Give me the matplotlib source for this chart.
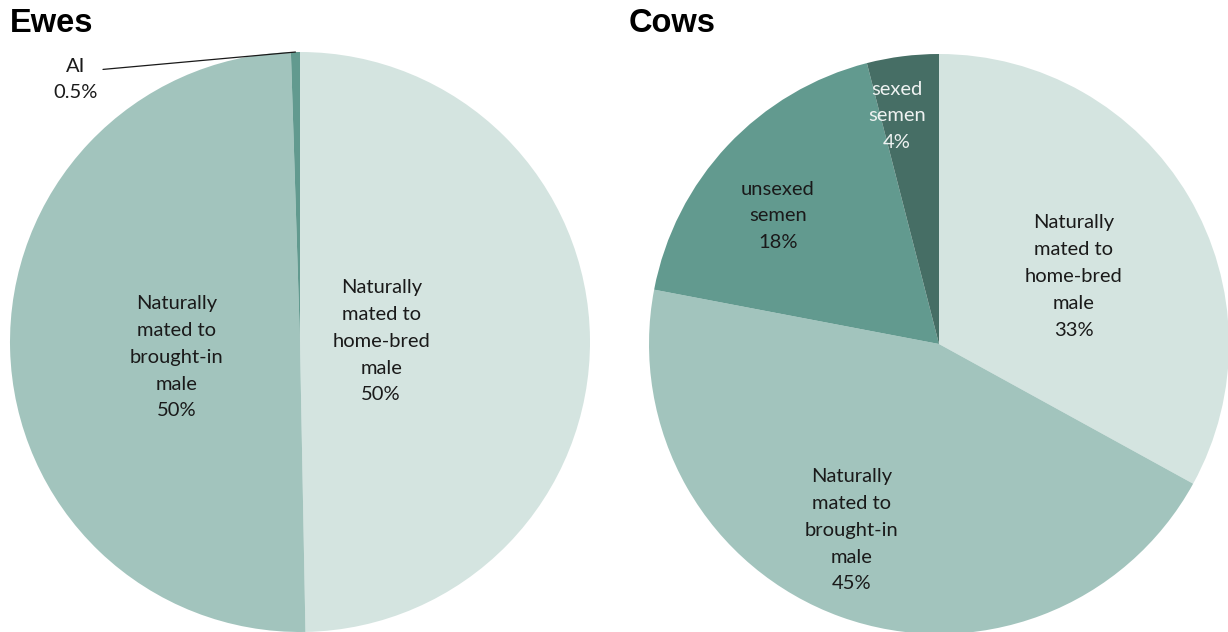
import matplotlib
matplotlib.use("Agg")
import numpy as np
import matplotlib.pyplot as plt

# ewes
ewe_labels = ["Naturally\nmated to\nhome-bred\nmale", "Naturally\nmated to\nbrought-in\nmale", "AI"]
ewe_values = [49.7, 49.8, 0.5]
ewe_pct = ["50%", "50%", "0.5%"]
ewe_colors = ["#d4e4e0", "#a2c4bd", "#629a8f"]

# cows
cow_labels = ["Naturally\nmated to\nhome-bred\nmale", "Naturally\nmated to\nbrought-in\nmale",
              "unsexed\nsemen", "sexed\nsemen"]
cow_values = [33, 45, 18, 4]
cow_pct = ["33%", "45%", "18%", "4%"]
cow_colors = ["#d4e4e0", "#a2c4bd", "#629a8f", "#466e65"]
cow_txt_colors = ["#1a1a1a", "#1a1a1a", "#1a1a1a", "#eef2f1"]

W, H = 1228, 632
fig = plt.figure(figsize=(W / 100, H / 100), dpi=100)

lab_font = dict(family=["Lato", "DejaVu Sans"], fontsize=14.5, linespacing=1.7)


def place_axes(cx, cy, r):
    return fig.add_axes([(cx - r) / W, (H - cy - r) / H, 2 * r / W, 2 * r / H])


def label_pos(w, dist, shift=0.0):
    ang = np.deg2rad((w.theta1 + w.theta2) / 2 + shift)
    return dist * np.cos(ang), dist * np.sin(ang)


# ---- Ewes
ax1 = place_axes(300, 342, 290)
wedges, _ = ax1.pie(ewe_values, colors=ewe_colors, startangle=90, counterclock=False,
                    radius=1, wedgeprops=dict(linewidth=0))
ax1.set_xlim(-1, 1)
ax1.set_ylim(-1, 1)
ax1.set_aspect("equal")
ewe_dist = [0.28, 0.43]
ewe_shift = [0, 5.6]
for i in range(2):
    x, y = label_pos(wedges[i], ewe_dist[i], ewe_shift[i])
    ax1.text(x, y, ewe_labels[i] + "\n" + ewe_pct[i], ha="center", va="center",
             color="#1a1a1a", **lab_font)
w = wedges[2]
ang = np.deg2rad((w.theta1 + w.theta2) / 2)
ax1.annotate(ewe_labels[2] + "\n" + ewe_pct[2], xy=(np.cos(ang), np.sin(ang)),
             xytext=(-0.775, 0.905), ha="center", va="center", color="#1a1a1a",
             annotation_clip=False,
             arrowprops=dict(arrowstyle="-", color="#1a1a1a", lw=0.9,
                             relpos=(1.0, 0.72), shrinkA=2, shrinkB=0), **lab_font)

# ---- Cows
ax2 = place_axes(939, 344, 290)
wedges2, _ = ax2.pie(cow_values, colors=cow_colors, startangle=90, counterclock=False,
                     radius=1, wedgeprops=dict(linewidth=0))
ax2.set_xlim(-1, 1)
ax2.set_ylim(-1, 1)
ax2.set_aspect("equal")
cow_dist = [0.52, 0.71, 0.71, 0.80]
cow_shift = [-4, -5.4, 4.7, 3.2]
for i, wd in enumerate(wedges2):
    x, y = label_pos(wd, cow_dist[i], cow_shift[i])
    ax2.text(x, y, cow_labels[i] + "\n" + cow_pct[i], ha="center", va="center",
             color=cow_txt_colors[i], **lab_font)

for a in (ax1, ax2):
    a.set_axis_off()

fig.text(10 / W, 1 - 24 / H, "Ewes", ha="left", va="center", fontsize=23.5,
         fontweight="bold", family="Liberation Sans")
fig.text(629 / W, 1 - 24 / H, "Cows", ha="left", va="center", fontsize=23.5,
         fontweight="bold", family="Liberation Sans")

fig.savefig("out.png", dpi=100)
